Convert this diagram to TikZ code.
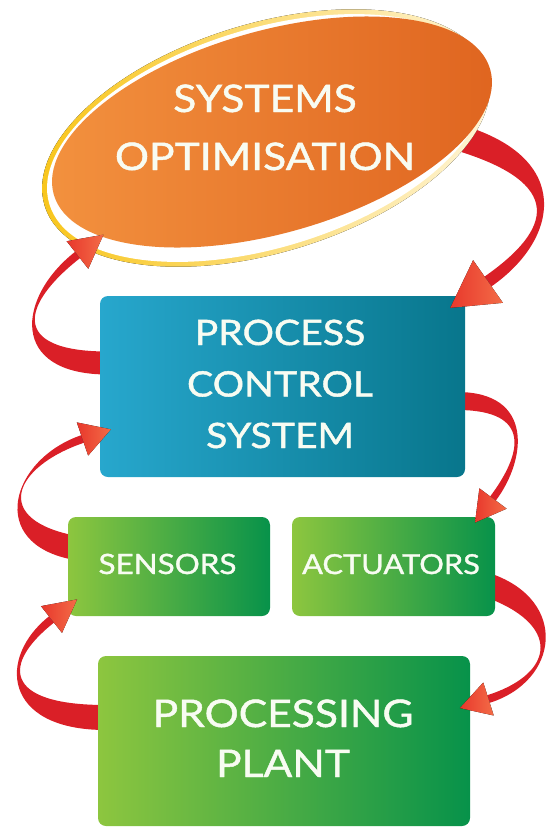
\documentclass[tikz,border=0pt]{standalone}
\usepackage{fontspec}
\setmainfont{Lato}[FakeStretch=1.12, FakeBold=1.2]
\usetikzlibrary{calc,shapes.geometric}
\definecolor{orL}{HTML}{F3923F}
\definecolor{orR}{HTML}{DF641F}
\definecolor{ringY}{HTML}{F8C416}
\definecolor{ringW}{HTML}{FFF6DC}
\definecolor{blL}{HTML}{27A7CD}
\definecolor{blR}{HTML}{08768C}
\definecolor{grL}{HTML}{8DC63F}
\definecolor{grM}{HTML}{3DB04A}
\definecolor{grR}{HTML}{07924A}
\definecolor{arrRed}{HTML}{DA1F27}
\definecolor{headA}{HTML}{E8382C}
\definecolor{headB}{HTML}{F36C47}
\definecolor{txt}{HTML}{F8FCF2}
\pgfdeclarelayer{bg}
\pgfsetlayers{bg,main}
\tikzset{
  box/.style={rectangle, rounded corners=8pt, inner sep=0pt, draw=none},
  bluebox/.style={box, left color=blL, right color=blR},
  greenbox/.style={box, left color=grL, middle color=grM, right color=grR},
  lbl/.style={text=txt, align=center, inner sep=0pt},
  arrowbody/.style={fill=arrRed},
  arrowtip/.style={left color=headA, right color=headB},
}
% #1..#4 centre-line Bezier points, #5 tail half width, #6 neck half width
\newcommand{\fatbody}[6]{%
  \fill[arrowbody] ($(#1)!#5!90:(#2)$) .. controls ($(#2)!#5!-90:(#1)$) and ($(#3)!#6!90:(#4)$) .. ($(#4)!#6!-90:(#3)$)
    -- ($(#4)!#6!90:(#3)$) .. controls ($(#3)!#6!-90:(#4)$) and ($(#2)!#5!90:(#1)$) .. ($(#1)!#5!-90:(#2)$) -- cycle;}
% #1 last control point, #2 head base centre, #3 head half width, #4 head length
\newcommand{\fathead}[4]{%
  \fill[arrowtip] ($(#2)!#3!-90:(#1)$) -- ($(#2)!#4!180:(#1)$) -- ($(#2)!#3!90:(#1)$) -- cycle;}
\begin{document}
\begin{tikzpicture}[x=1pt,y=-1pt]
\useasboundingbox (0,0) rectangle (547,828);
% ring round the ellipse
\fill[rotate around={17:(266,138)}, left color=ringY, right color=ringW]
  (266,138) ellipse [x radius=231.5, y radius=114.5];
\fill[white, rotate around={17:(266,138)}]
  (266,138) ellipse [x radius=226.5, y radius=109.5];
\node[ellipse, inner sep=0pt, minimum width=454pt, minimum height=202pt, rotate=16,
      left color=orL, right color=orR] (opt) at (272,132) {};
\node[lbl, font=\fontsize{38}{58}\selectfont, anchor=base] (optlbl) at (265,170) {SYSTEMS\\OPTIMISATION};

\node[bluebox, minimum width=365pt, minimum height=181pt] (pcs) at (282.5,386.5) {};
\node[lbl, font=\fontsize{35}{51.5}\selectfont, anchor=base] (pcslbl) at (280,448) {PROCESS\\CONTROL\\SYSTEM};

\node[greenbox, minimum width=202pt, minimum height=99pt] (sens) at (169,566.5) {};
\node[lbl, font=\fontsize{28}{34}\selectfont, anchor=base] (senslbl) at (167.5,574) {SENSORS};
\node[greenbox, minimum width=203pt, minimum height=99pt] (act) at (393.5,566.5) {};
\node[lbl, font=\fontsize{27.5}{34}\selectfont, anchor=base] (actlbl) at (391,574) {ACTUATORS};

\node[greenbox, minimum width=372pt, minimum height=170pt] (plant) at (284,741) {};
\node[lbl, font=\fontsize{38}{50}\selectfont, anchor=base] (plantlbl) at (283,777) {PROCESSING\\PLANT};

% connector points
\coordinate (a0) at ($(pcs.west)+(8,-23.5)$);
\coordinate (a1) at (8,363);
\coordinate (a2) at (20,300);
\coordinate (a3) at (77.5,255);
\coordinate (b0) at ($(opt.center)+(188,6)$);
\coordinate (b1) at (569,171);
\coordinate (b2) at (556,234);
\coordinate (b3) at (488,281.5);
\coordinate (c0) at ($(pcs.east)+(-8,14.5)$);
\coordinate (c1) at (534,401);
\coordinate (c2) at (524,457);
\coordinate (c3) at (493,498.5);
\coordinate (d0) at ($(sens.west)+(8,-18.5)$);
\coordinate (d1) at (-12,532);
\coordinate (d2) at (12,463);
\coordinate (d3) at (82.5,439);
\coordinate (e0) at ($(act.east)+(-8,18.5)$);
\coordinate (e1) at (565,612);
\coordinate (e2) at (558,677);
\coordinate (e3) at (488.5,699);
\coordinate (f0) at ($(plant.west)+(8,-23.5)$);
\coordinate (f1) at (2,717.5);
\coordinate (f2) at (0,660);
\coordinate (f3) at (51.5,619.5);

\begin{pgfonlayer}{bg}
\fatbody{a0}{a1}{a2}{a3}{11.5pt}{4pt}
\fatbody{b0}{b1}{b2}{b3}{13pt}{6pt}
\fatbody{c0}{c1}{c2}{c3}{9pt}{3.5pt}
\fatbody{d0}{d1}{d2}{d3}{12pt}{4pt}
\fatbody{e0}{e1}{e2}{e3}{12pt}{4pt}
\fatbody{f0}{f1}{f2}{f3}{12.5pt}{4pt}
\end{pgfonlayer}
\fathead{a2}{a3}{17.5pt}{33pt}
\fathead{b2}{b3}{26pt}{46pt}
\fathead{c2}{c3}{17pt}{30pt}
\fathead{d2}{d3}{17.5pt}{30pt}
\fathead{e2}{e3}{17.3pt}{30pt}
\fathead{f2}{f3}{17pt}{32.5pt}
\end{tikzpicture}
\end{document}
